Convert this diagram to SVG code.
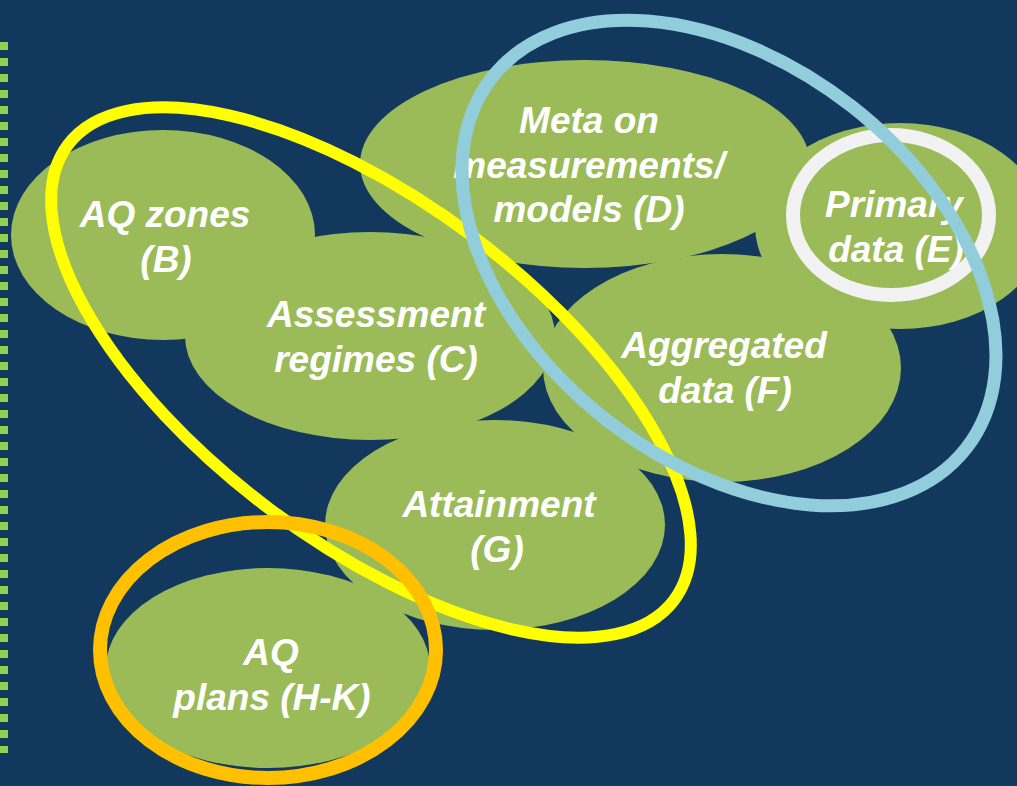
<svg xmlns="http://www.w3.org/2000/svg" width="1017" height="786" viewBox="0 0 1017 786">
<style>
.bubble{fill:#9BBB59;}
.lbl{font-family:"Liberation Sans",Arial,sans-serif;font-size:37px;font-weight:bold;font-style:italic;fill:#FFFFFF;text-anchor:middle;}
.ring{fill:none;}
</style>
<rect x="0" y="0" width="1017" height="786" fill="#12385E"/>
<line x1="4" y1="42" x2="4" y2="753" stroke="#92D050" stroke-width="8" stroke-dasharray="8 8"/>
<g id="shapes">
<ellipse class="bubble" cx="163" cy="235" rx="152" ry="105"/>
<ellipse class="bubble" cx="370" cy="336" rx="185" ry="104"/>
<ellipse class="bubble" cx="585" cy="164" rx="225" ry="104"/>
<ellipse class="bubble" cx="900" cy="226" rx="145" ry="103"/>
<ellipse class="bubble" cx="722" cy="368" rx="179" ry="114"/>
<ellipse class="bubble" cx="495" cy="525" rx="170" ry="105"/>
<ellipse class="bubble" cx="268" cy="668" rx="162" ry="100"/>
</g>
<g id="node-B"><text class="lbl" x="165" y="227">AQ zones</text><text class="lbl" x="166" y="272">(B)</text></g>
<g id="node-C"><text class="lbl" x="376" y="327">Assessment</text><text class="lbl" x="376" y="372">regimes (C)</text></g>
<g id="node-D"><text class="lbl" x="589" y="133">Meta on</text><text class="lbl" x="589" y="178">measurements/</text><text class="lbl" x="589" y="222">models (D)</text></g>
<g id="node-E"><text class="lbl" x="894" y="217">Primary</text><text class="lbl" x="896" y="262">data (E)</text></g>
<g id="node-F"><text class="lbl" x="724" y="358">Aggregated</text><text class="lbl" x="725" y="403">data (F)</text></g>
<g id="node-G"><text class="lbl" x="499" y="517">Attainment</text><text class="lbl" x="497" y="562">(G)</text></g>
<g id="node-HK"><text class="lbl" x="271" y="665">AQ</text><text class="lbl" x="272" y="710">plans (H-K)</text></g>
<g id="connectors">
<ellipse class="ring" cx="891" cy="215" rx="98" ry="80" stroke="#F2F2F2" stroke-width="14"/>
<ellipse class="ring" cx="0" cy="0" rx="379" ry="170" stroke="#FFFF00" stroke-width="12" transform="translate(371 372.5) rotate(36.9)"/>
<ellipse class="ring" cx="268" cy="650" rx="168" ry="128" stroke="#FFC000" stroke-width="14"/>
<ellipse class="ring" cx="0" cy="0" rx="301" ry="199" stroke="#92CDDC" stroke-width="13" transform="translate(729 263) rotate(38)"/>
</g>
</svg>
